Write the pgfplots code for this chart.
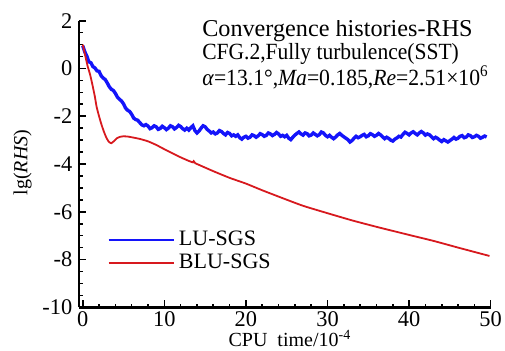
\documentclass[border=0pt]{standalone}
\usepackage{pgfplots}
\pgfplotsset{compat=1.18}
\usepackage{fontspec}
\setmainfont{Liberation Serif}
\definecolor{lublue}{RGB}{20,20,250}
\definecolor{blured}{RGB}{215,25,30}
\begin{document}
\begin{tikzpicture}
\path[use as bounding box] (-39.65pt,-21.35pt) rectangle (212.85pt,153.65pt);
\begin{axis}[
  scale only axis, width=205.7pt, height=143.3pt,
  at={(0,0)}, anchor=south west,
  xmin=-0.42, xmax=50, ymin=-10, ymax=2,
  axis x line*=bottom, axis y line*=left,
  axis line style={line width=1.2pt,black},
  tick align=inside,
  major tick length=3.5pt, minor tick length=1.8pt,
  every tick/.style={black,line width=0.8pt},
  xtick={0,10,20,30,40,50}, xticklabels={0,10,20,30,40,50},
  ytick={-10,-8,-6,-4,-2,0,2}, yticklabels={-10,-8,-6,-4,-2,0,2},
  minor x tick num=4, minor y tick num=3,
  ticklabel style={font=\fontsize{11.2}{12}\selectfont},
  xticklabel style={yshift=1.5pt},
  xlabel={CPU\ \ time/10\textsuperscript{-4}},
  ylabel={lg(\textit{RHS})},
  label style={font=\fontsize{11.6}{12}\selectfont},
  every axis x label/.style={at={(axis description cs:0.512,0)},anchor=base,yshift=-19.7pt},
  every axis y label/.style={at={(axis description cs:-0.138,0.505)},anchor=center,rotate=90},
  legend style={draw=none, fill=none, at={(axis description cs:0.0673,0.195)}, anchor=west,
    inner sep=0pt, row sep=-1.5pt, font=\fontsize{11}{12}\selectfont},
  legend cell align=left,
  legend image code/.code={\draw[#1] (0pt,0pt) -- (32.5pt,0pt);},
]
\addplot[lublue, line width=1.7pt, legend image post style={line width=1.3pt}] coordinates {
(0,0.95)(0.25,0.70)(0.5,0.52)(0.75,0.28)(1.0,0.24)(1.25,0.08)(1.5,0.02)(1.75,-0.10)(2.0,-0.12)(2.25,-0.30)(2.5,-0.40)
(2.75,-0.46)(3.0,-0.60)(3.25,-0.76)(3.5,-0.87)(3.75,-0.92)(4.0,-1.04)(4.25,-1.20)(4.5,-1.29)(4.75,-1.36)(5.0,-1.48)(5.25,-1.66)(5.5,-1.75)(5.75,-1.80)(6.0,-1.92)(6.25,-2.08)(6.5,-2.14)
(6.75,-2.17)(7.0,-2.27)(7.25,-2.36)(7.5,-2.40)(7.75,-2.35)(8.0,-2.41)(8.25,-2.52)(8.5,-2.48)(8.75,-2.40)(9.0,-2.44)(9.25,-2.55)(9.5,-2.51)(9.75,-2.42)(10.0,-2.48)(10.25,-2.56)(10.5,-2.50)
(10.75,-2.40)(11.0,-2.44)(11.25,-2.53)(11.5,-2.47)(11.75,-2.38)(12.0,-2.43)(12.25,-2.52)(12.5,-2.58)(12.75,-2.50)(13.0,-2.58)(13.25,-2.48)(13.5,-2.40)(13.75,-2.60)(14.0,-2.70)(14.25,-2.62)(14.5,-2.50)
(14.75,-2.40)(15.0,-2.44)(15.25,-2.55)(15.5,-2.62)(15.75,-2.70)(16.0,-2.66)(16.25,-2.74)(16.5,-2.70)(16.75,-2.60)(17.0,-2.64)(17.25,-2.72)(17.5,-2.78)(17.75,-2.68)(18.0,-2.72)(18.25,-2.82)(18.5,-2.78)
(18.75,-2.84)(19.0,-2.78)(19.25,-2.90)(19.5,-2.96)(19.75,-2.88)(20.0,-2.84)(20.25,-2.92)(20.5,-2.88)(20.75,-2.78)(21.0,-2.81)(21.25,-2.88)(21.5,-2.82)(21.75,-2.73)(22.0,-2.77)(22.25,-2.84)(22.5,-2.80)
(22.75,-2.70)(23.0,-2.74)(23.25,-2.81)(23.5,-2.76)(23.75,-2.68)(24.0,-2.74)(24.25,-2.84)(24.5,-2.80)(24.75,-2.86)(25.0,-2.80)(25.25,-2.92)(25.5,-2.98)(25.75,-2.88)(26.0,-2.79)(26.25,-2.72)(26.5,-2.66)
(26.75,-2.74)(27.0,-2.79)(27.25,-2.70)(27.5,-2.73)(27.75,-2.82)(28.0,-2.79)(28.25,-2.70)(28.5,-2.76)(28.75,-2.82)(29.0,-2.77)(29.25,-2.66)(29.5,-2.70)(29.75,-2.80)(30.0,-2.86)(30.25,-2.80)(30.5,-2.88)
(30.75,-2.94)(31.0,-2.87)(31.25,-2.78)(31.5,-2.72)(31.75,-2.80)(32.0,-2.86)(32.25,-2.92)(32.5,-2.98)(32.75,-3.08)(33.0,-3.02)(33.25,-2.92)(33.5,-2.84)(33.75,-2.90)(34.0,-2.86)(34.25,-2.80)(34.5,-2.76)
(34.75,-2.86)(35.0,-2.82)(35.25,-2.73)(35.5,-2.77)(35.75,-2.84)(36.0,-2.80)(36.25,-2.72)(36.5,-2.78)(36.75,-2.86)(37.0,-2.94)(37.25,-2.88)(37.5,-2.93)(37.75,-3.00)(38.0,-3.04)(38.25,-2.96)(38.5,-2.91)
(38.75,-2.84)(39.0,-2.87)(39.25,-2.76)(39.5,-2.67)(39.75,-2.72)(40.0,-2.78)(40.25,-2.70)(40.5,-2.65)(40.75,-2.72)(41.0,-2.78)(41.25,-2.70)(41.5,-2.64)(41.75,-2.70)(42.0,-2.79)(42.25,-2.74)(42.5,-2.78)
(42.75,-2.86)(43.0,-2.94)(43.25,-2.88)(43.5,-2.93)(43.75,-3.00)(44.0,-3.06)(44.25,-2.98)(44.5,-3.03)(44.75,-3.08)(45.0,-3.02)(45.25,-2.96)(45.5,-2.89)(45.75,-2.96)(46.0,-2.92)(46.25,-2.84)(46.5,-2.81)
(46.75,-2.90)(47.0,-2.87)(47.25,-2.78)(47.5,-2.81)(47.75,-2.89)(48.0,-2.86)(48.25,-2.80)(48.5,-2.84)(48.75,-2.92)(49.0,-2.88)(49.25,-2.83)(49.5,-2.87)
};
\addlegendentry{LU-SGS}
\addplot[blured, line width=0.9pt, smooth, tension=0.3] coordinates {
(0,1.0)(0.3,0.55)(0.6,0.1)(0.9,-0.25)(1.2,-0.7)(1.5,-1.2)(1.7,-1.6)(2.0,-2.0)(2.3,-2.35)
(2.6,-2.65)(2.9,-2.9)(3.2,-3.07)(3.5,-3.13)(3.8,-3.05)(4.2,-2.92)(4.6,-2.86)(5.0,-2.84)
(5.5,-2.85)(6.0,-2.88)(7.0,-2.95)(8.0,-3.05)(9.0,-3.2)(10,-3.38)(11,-3.55)(12,-3.72)
(13,-3.87)(13.5,-3.93)(13.6,-3.88)(13.8,-3.97)(14,-4.0)(15,-4.15)(16,-4.3)(18,-4.58)(20,-4.82)
(22,-5.1)(24.5,-5.43)(27,-5.75)(30,-6.06)(33,-6.36)(36,-6.63)(40,-6.97)(43,-7.22)(46,-7.5)(49.85,-7.85)
};
\addlegendentry{BLU-SGS}
\node[anchor=base west,font=\fontsize{12.1}{13}\selectfont,inner sep=0pt] at (rel axis cs:0.298,0.945) {Convergence histories-RHS};
\node[anchor=base west,font=\fontsize{11.6}{12}\selectfont,inner sep=0pt] at (rel axis cs:0.298,0.8655) {\scalebox{0.928}[1]{CFG.2,Fully turbulence(SST)}};
\node[anchor=base west,font=\fontsize{11.6}{12}\selectfont,inner sep=0pt] at (rel axis cs:0.298,0.775) {\scalebox{0.933}[1]{\textit{α}=13.1°,\textit{Ma}=0.185,\textit{Re}=2.51×10\textsuperscript{6}}};
\end{axis}
\end{tikzpicture}
\end{document}
